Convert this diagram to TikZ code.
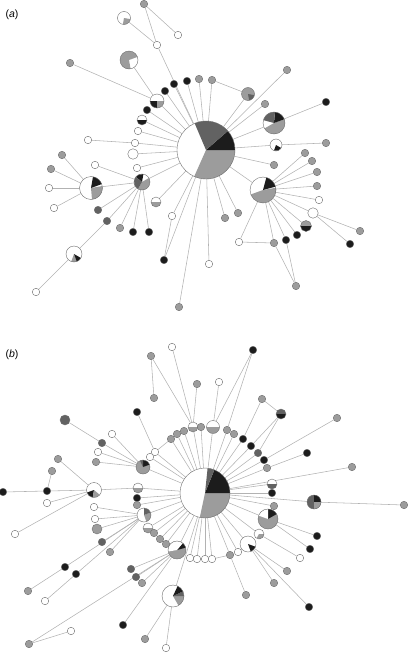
\documentclass[tikz,border=0pt]{standalone}
\usepackage{fontspec}
\setsansfont{Liberation Sans}
\definecolor{lg}{HTML}{9C9C9C}
\definecolor{dg}{HTML}{626262}
\definecolor{bk}{HTML}{1C1C1C}
\definecolor{ol}{HTML}{6E6E6E}
\definecolor{ln}{HTML}{B2B2B2}
\pgfdeclarelayer{bg}
\pgfsetlayers{bg,main}
\tikzset{
  dot/.style={circle, draw=ol, line width=0.4pt, inner sep=0pt, minimum size=7.5pt},
  wdot/.style={dot, fill=white},
  gdot/.style={dot, fill=lg},
  ddot/.style={dot, fill=dg},
  kdot/.style={dot, fill=bk},
  wbig/.style={dot, fill=white, minimum size=10.5pt},
  gbig/.style={dot, fill=lg, minimum size=10pt},
  dbig/.style={dot, fill=dg, minimum size=10pt},
  wmid/.style={dot, fill=white, minimum size=9pt},
  piebase/.style={circle, fill=white, inner sep=0pt},
  edge/.style={draw=ln, line width=0.55pt},
  lab/.style={font=\sffamily\fontsize{10.5}{12}\selectfont, inner sep=0pt}
}
\newcommand{\piechart}[4]{%
  \node[piebase, minimum size={2*#3}] (#1) at #2 {};
  \foreach \pa/\pb/\pc in {#4}{\fill[\pc] (#1.center) -- ++({-\pa}:#3) arc[start angle={-\pa}, end angle={-\pb}, radius=#3] -- cycle;}
  \draw[ol, line width=0.4pt] (#1.center) circle[radius=#3];
}
\begin{document}
\begin{tikzpicture}[x=1pt, y=-1pt]
\useasboundingbox (0,0) rectangle (411,653);
\node[lab] (la) at (12,15) {(\textit{a})};
\node[lab] (lb) at (12,355) {(\textit{b})};

% ---------------- panel (a) ----------------
\piechart{CA}{(206,150)}{29}{113/246/white, 246/360/lg, 0/41/bk, 41/113/dg}
\piechart{a1}{(124,18)}{6.5}{260/350/lg}
\piechart{a2}{(129,60)}{9}{20/280/lg}
\piechart{a3}{(157,101)}{7}{180/270/bk, 270/360/lg}
\piechart{a4}{(142,120)}{5}{180/360/bk}
\piechart{a5}{(91,188)}{11.5}{275/370/lg, 20/80/bk}
\piechart{a6}{(142,182)}{8}{240/390/lg, 80/140/bk, 140/240/dg}
\piechart{a7}{(74,254)}{8}{250/290/lg, 290/330/bk}
\piechart{a8}{(263,190)}{13}{200/370/lg, 15/75/bk}
\piechart{a9}{(274,123)}{11}{210/380/lg, 20/85/bk, 85/165/dg}
\piechart{a10}{(276,145)}{6}{250/330/bk}
\piechart{a11}{(248,94)}{6.5}{0/360/lg, 280/350/dg}
\piechart{a12}{(156,202)}{5}{180/360/lg}
\piechart{a13}{(306,226)}{5.5}{0/180/lg, 180/360/bk}

\foreach \nm/\x/\y/\st in {
 n1/144/4/gdot, n2/178/35/wdot, n3/157/45/wdot, n4/70/63/gdot,
 n5/174/84/kdot, n6/187/81/kdot, n7/199/79/gdot, n8/212/80/gdot,
 n9/165/91/kdot, n10/147/110/kdot, n11/138/131/wdot, n12/135/143/wdot,
 n13/88/140/wdot, n14/133/154/wbig, n15/62/155/gdot, n16/137/168/wdot,
 n17/51/169/gdot, n18/95/165/wdot, n19/49/188/wdot, n20/54/208/wdot,
 n21/98/210/ddot, n22/107/221/ddot, n23/120/228/gdot, n24/133/232/kdot,
 n25/149/232/kdot, n26/172/216/wdot, n27/164/260/kdot, n28/36/292/wdot,
 n29/179/307/gdot, n30/209/264/wdot, n31/225/218/gdot, n32/238/213/gdot,
 n33/274/165/gdot, n34/305/153/gdot, n35/312/161/gdot, n36/317/172/gdot,
 n37/317/186/gdot, n38/319/200/wdot, n39/313/213/wbig, n40/360/231/gdot,
 n41/350/244/kdot, n42/297/235/kdot, n43/286/240/kdot, n44/274/243/gdot,
 n45/239/242/wdot, n46/296/286/gdot, n47/287/70/gdot, n49/265/104/gdot,
 n50/326/102/kdot, n51/326/143/gdot}
 \node[\st] (\nm) at (\x,\y) {};

% ---------------- panel (b) ----------------
\piechart{CB}{(205,493)}{25}{258/360/lg, 0/68/bk, 68/84/dg}
\piechart{b1}{(94,490)}{7.5}{200/260/bk, 260/320/lg}
\piechart{b2}{(143,467)}{7}{0/360/lg, 20/90/bk, 90/115/dg}
\piechart{b3}{(268,519)}{10}{0/360/lg, 30/90/bk, 90/160/white}
\piechart{b4}{(248,544)}{8}{290/340/bk}
\piechart{b5}{(177,550)}{9}{0/360/lg, 15/50/bk, 50/190/white}
\piechart{b6}{(144,515)}{7}{290/380/lg, 20/90/dg}
\piechart{b7}{(314,502)}{7}{0/360/dg, 0/90/bk, 270/360/lg}
\piechart{b8}{(173,596)}{11}{300/360/lg, 0/25/dg, 25/65/bk}
\piechart{b9}{(193,427)}{5}{180/360/lg}
\piechart{b10}{(213,427)}{6.5}{180/360/lg}
\piechart{b11}{(138,488)}{5}{180/360/lg}
\piechart{b12}{(148,528)}{5}{180/360/lg}
\piechart{b13}{(272,484)}{5}{180/360/dg}
\piechart{b14}{(281,414)}{5}{0/180/dg, 180/360/bk}
\piechart{b15}{(259,534)}{5}{240/360/lg}

\foreach \nm/\x/\y/\st in {
 m1/172/347/wdot, m2/151/356/gdot, m3/154/398/gdot, m4/197/384/gdot,
 m5/219/382/wdot, m6/253/350/kdot, m7/137/412/kdot, m8/65/420/dbig,
 m9/112/434/wdot, m10/102/443/ddot, m11/98/452/wdot, m12/96/462/gdot,
 m13/58/459/gdot, m14/52/471/gdot, m15/3/492/kdot, m16/47/491/kdot,
 m17/47/503/wdot, m18/15/534/wdot, m19/155/452/wdot, m20/150/457/wdot,
 m21/171/439/gdot, m22/177/434/gdot, m23/184/431/gdot, m24/201/427/gdot,
 m25/227/430/gdot, m26/234/434/gdot, m27/243/439/kdot, m28/251/446/kdot,
 m29/258/453/ddot, m30/264/460/kdot, m31/267/468/gdot, m32/262/399/gdot,
 m33/337/418/gdot, m34/307/453/kdot, m35/352/467/gdot, m36/272/493/kdot,
 m37/274/506/gdot, m38/404/505/gdot, m39/317/536/kdot, m40/310/549/kdot,
 m41/300/558/wdot, m42/287/571/gdot, m43/274/583/gdot, m44/246/595/gdot,
 m45/309/607/kdot, m46/238/552/wdot, m47/230/555/gdot, m48/212/559/wdot,
 m49/205/559/wdot, m50/197/559/wdot, m51/190/558/wdot, m52/166/544/gdot,
 m53/160/539/gdot, m54/154/533/gdot, m55/137/498/kdot, m56/137/505/gdot,
 m57/94/507/wdot, m58/95/519/wdot, m59/97/529/gbig, m60/102/542/ddot,
 m61/110/552/gdot, m62/65/567/kdot, m63/76/574/kdot, m64/28/591/gdot,
 m65/45/601/wdot, m66/131/569/ddot, m67/136/577/ddot, m68/142/583/gdot,
 m69/123/625/kdot, m70/145/639/gdot, m71/166/648/wdot, m72/29/644/gdot,
 m73/71/631/wdot}
 \node[\st] (\nm) at (\x,\y) {};

\begin{pgfonlayer}{bg}
\foreach \u/\v in {
 n1/n2, n1/n3, a1/n3, n3/CA, a2/a3, n4/a3, a3/CA, n5/CA, n6/CA, n7/CA,
 n8/CA, n8/a11, a11/CA, n9/CA, n10/CA, a4/CA, n11/CA, n12/CA, n13/n12,
 n14/CA, n16/CA, n15/a5, n17/a5, n19/a5, n20/a5, n18/a6, a5/a6, a6/CA,
 a6/n21, a6/n22, n22/a7, a7/n28, a6/n23, a6/n24, a6/n25, a12/CA, n26/CA,
 n26/n27, n27/CA, n29/CA, n30/CA, n31/CA, n32/CA, n33/CA, a8/CA, a8/n45,
 n45/n44, a8/n44, a8/n43, a8/n42, a8/a13, a8/n39, n44/n46, n43/n46,
 a8/n34, a8/n35, a8/n36, a8/n37, a8/n38, n39/n40, n39/n41, n47/CA,
 n49/CA, a9/CA, a9/n50, a10/CA, a10/n51}
 \draw[edge] (\u) -- (\v);
\foreach \u/\v in {
 m1/b9, m2/b9, m2/m3, m4/b9, m5/b10, m6/b10, m6/m25, m7/m19, m8/m10,
 m10/b2, m9/b2, m11/b2, m12/b2, m13/b1, m14/m16, m15/m16, m16/b1,
 m17/b1, m18/b1, b1/b11, m32/b14, m32/m27, b14/m28, b14/m29, m33/m30,
 m34/m31, m35/CB, b7/CB, b7/m38, b3/m39, b3/m40, b15/m41, b4/m42,
 b4/m43, b4/m45, m47/m44, b6/m57, b6/m58, b6/m59, b6/m60, b6/m61,
 m64/m62, m62/b6, m65/m63, m63/b6, b5/m66, b5/m67, b5/m68, b5/m72,
 m72/m73, b5/m69, b8/CB, b8/m70, b8/m71,
 m20/m19, m19/m21, m21/m22, m22/m23, m23/b9, m48/m47, m47/m46, m46/b4,
 m54/m53, m53/m52, m52/b5}
 \draw[edge] (\u) -- (\v);
\foreach \u in {m19, m20, m21, m22, m23, b9, m24, b10, m25, m26, m27, m28,
 m29, m30, m31, b13, m36, m37, b3, b15, b4, m46, m47, m48, m49, m50, m51,
 b5, m52, m53, m54, b12, b6, m56, m55, b11, b2}
 \draw[edge] (\u) -- (CB);
\end{pgfonlayer}
\end{tikzpicture}
\end{document}
